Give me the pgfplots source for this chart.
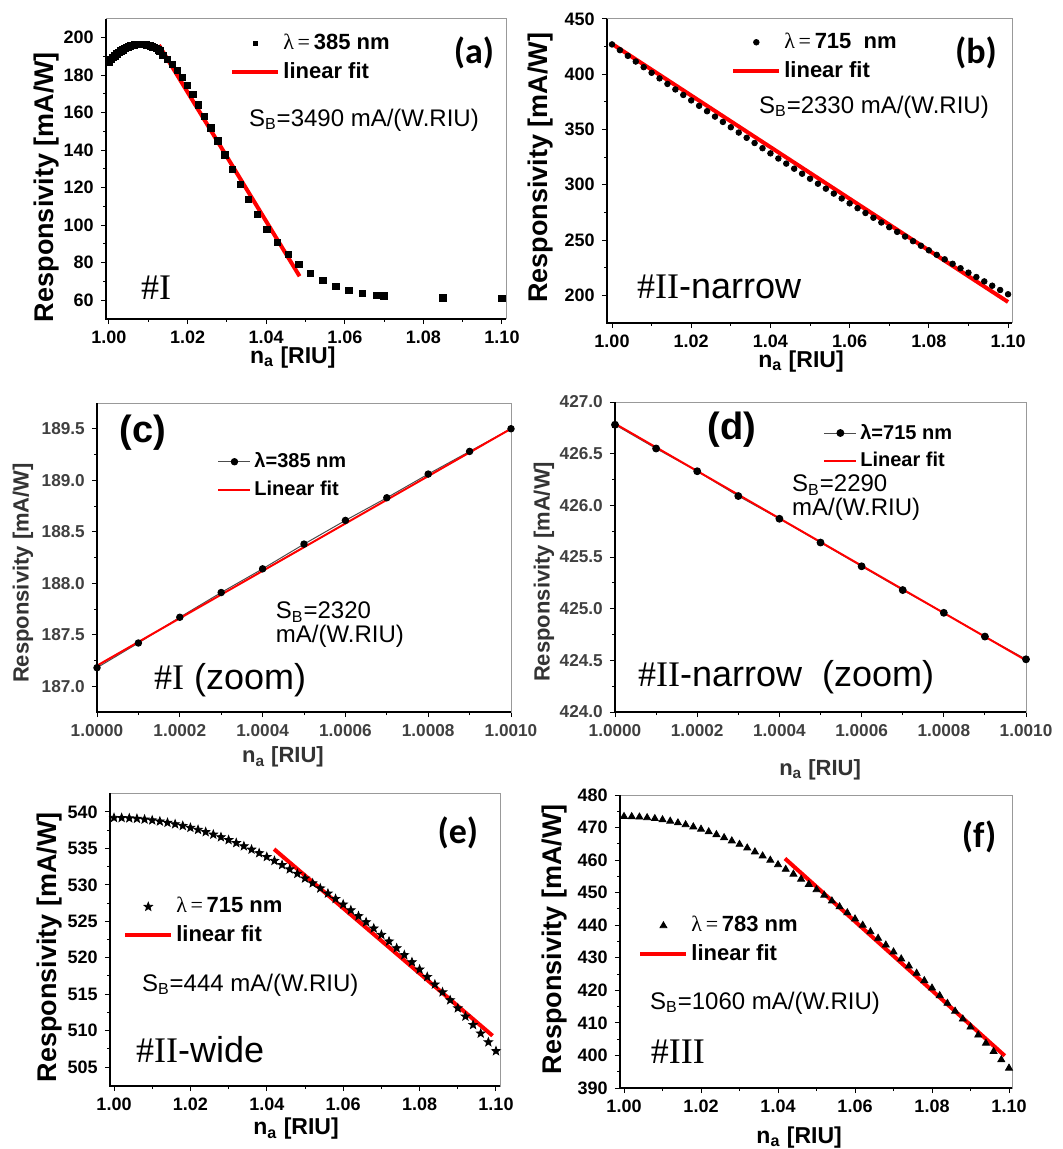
\documentclass[border=0pt]{standalone}
\usepackage{fontspec}
\setmainfont{Liberation Sans}
\newfontfamily\tnr{Liberation Serif}
\newfontfamily\calib{Carlito}
\usepackage{pgfplots}
\pgfplotsset{compat=1.18}

% filled five-point star
\pgfdeclareplotmark{fstar}{%
  \pgfpathmoveto{\pgfpointpolar{90}{\pgfplotmarksize}}%
  \pgfpathlineto{\pgfpointpolar{126}{0.42\pgfplotmarksize}}%
  \pgfpathlineto{\pgfpointpolar{162}{\pgfplotmarksize}}%
  \pgfpathlineto{\pgfpointpolar{198}{0.42\pgfplotmarksize}}%
  \pgfpathlineto{\pgfpointpolar{234}{\pgfplotmarksize}}%
  \pgfpathlineto{\pgfpointpolar{270}{0.42\pgfplotmarksize}}%
  \pgfpathlineto{\pgfpointpolar{306}{\pgfplotmarksize}}%
  \pgfpathlineto{\pgfpointpolar{342}{0.42\pgfplotmarksize}}%
  \pgfpathlineto{\pgfpointpolar{18}{\pgfplotmarksize}}%
  \pgfpathlineto{\pgfpointpolar{54}{0.42\pgfplotmarksize}}%
  \pgfpathclose\pgfusepathqfillstroke}

\newcommand{\fs}[1]{\fontsize{#1}{#1}\selectfont}

\pgfplotsset{
  panel/.style={
    scale only axis, anchor=south west,
    tick align=outside, xtick pos=bottom, ytick pos=left,
    major tick length=2.6pt, minor tick length=1.5pt,
    every tick/.style={black, line width=0.5pt},
    axis line style={black!40, line width=0.5pt},
    tick label style={font=\bfseries\fs{9}},
    /pgf/number format/assume math mode=true,
    /pgf/number format/fixed, /pgf/number format/fixed zerofill,
    ylabel style={font=\bfseries\fs{13.5}},
    xlabel style={font=\bfseries\fs{11.5}},
    legend cell align=left,
    legend style={draw=none, fill=none, inner sep=0pt, anchor=north west,
      font=\bfseries\fs{11}, row sep=2pt, nodes={inner sep=1.5pt}},
    legend image code/.code={\draw[mark repeat=2,mark phase=2,##1] plot coordinates {(0pt,0pt) (11.5pt,0pt) (23pt,0pt)};},
    after end axis/.code={\draw[black, line width=0.7pt] (rel axis cs:0,1) -- (rel axis cs:0,0) -- (rel axis cs:1,0);},
  },
  smallsq/.style={legend image code/.code={\draw[mark repeat=2,mark phase=2,##1,mark size=1.1pt] plot coordinates {(0pt,0pt) (11.5pt,0pt) (23pt,0pt)};}},
  wide/.style={xtick={1,1.02,1.04,1.06,1.08,1.1}, minor x tick num=1,
    xticklabel style={/pgf/number format/precision=2},
    yticklabel style={/pgf/number format/precision=0}},
  zoomx/.style={xtick={1,1.0002,1.0004,1.0006,1.0008,1.001}, minor x tick num=1,
    xticklabel style={/pgf/number format/precision=4},
    yticklabel style={/pgf/number format/precision=1},
    tick label style={font=\bfseries\fs{8.6}, text=black!75},
    ylabel style={font=\bfseries\fs{11}, text=black!80},
    xlabel style={font=\bfseries\fs{11}, text=black!80},
    legend style={font=\bfseries\fs{10}},
    legend image code/.code={\draw[mark repeat=2,mark phase=2,##1] plot coordinates {(0pt,0pt) (8pt,0pt) (16pt,0pt)};}},
  fit/.style={red, line width=2pt, no marks},
}

\begin{document}
\begin{tikzpicture}
\useasboundingbox (0,0) rectangle (531pt,-574.5pt);

% (a)
\begin{axis}[panel, wide, at={(53pt,-159.5pt)}, width=200pt, height=150pt,
  xmin=0.99924, xmax=1.10102, ymin=50, ymax=210,
  ytick={60,80,100,120,140,160,180,200}, minor y tick num=1,
  xlabel={n\textsubscript{a} [RIU]}, ylabel={Responsivity [mA/W]},
  xlabel style={at={(axis description cs:0.467,-0.147)}, anchor=base},
  ylabel style={at={(axis description cs:-0.148,0.44)}, anchor=center},
  legend style={at={(0.31,0.96)}}]
\addplot[only marks, mark=square*, mark size=1.6pt, black, smallsq]
coordinates {
(1.0000,187.22)(1.0005,188.34)(1.0010,189.40)(1.0015,190.37)(1.0020,191.28)
(1.0025,192.11)(1.0030,192.88)(1.0035,193.56)(1.0040,194.18)(1.0045,194.72)
(1.0050,195.20)(1.0055,195.59)(1.0060,195.92)(1.0065,196.17)(1.0070,196.36)
(1.0075,196.46)(1.0080,196.50)(1.0085,196.46)(1.0090,196.36)(1.0095,196.17)
(1.0100,195.92)(1.0105,195.59)(1.0110,195.20)(1.0115,194.72)(1.0120,194.18)
(1.0125,193.56)(1.0130,192.88)(1.0137,190.6)(1.0148,188.4)(1.0161,185.8)
(1.0174,182.6)(1.0187,178.7)(1.0200,174.6)(1.0214,169.8)(1.0227,164.1)
(1.0243,158.2)(1.0259,152.0)(1.0277,145.0)(1.0295,137.6)(1.0314,129.7)
(1.0334,121.7)(1.0355,113.7)(1.0378,105.7)(1.0402,97.7)(1.0428,90.9)
(1.0456,84.4)(1.0483,79.0)(1.0513,74.2)(1.0544,70.5)(1.0577,67.5)
(1.0610,65.1)(1.0645,63.7)(1.0680,62.7)(1.0700,62.3)(1.0850,61.2)(1.1000,60.9)};
\addlegendentry{{\tnr\mdseries λ\,=\,}385 nm}
\addplot[fit] coordinates {(1.0127,196.1) (1.0485,72.8)};
\addlegendentry{linear fit}
\node[anchor=center, font=\calib\bfseries\fs{18}] at (rel axis cs:0.92,0.887) {(a)};
\node[anchor=west, font=\fs{12}] at (rel axis cs:0.34,0.663) {S\textsubscript{B}=3490 mA/(W.RIU)};
\node[anchor=west, font=\tnr\fs{18}] at (rel axis cs:0.07,0.103) {\#I};
\end{axis}

% (b)
\begin{axis}[panel, wide, at={(303.5pt,-161.5pt)}, width=202.5pt, height=152pt,
  xmin=0.99874, xmax=1.1010, ymin=175, ymax=450,
  ytick={200,250,300,350,400,450}, minor y tick num=1,
  xlabel={n\textsubscript{a} [RIU]}, ylabel={Responsivity [mA/W]},
  xlabel style={at={(axis description cs:0.479,-0.145)}, anchor=base},
  ylabel style={at={(axis description cs:-0.163,0.51)}, anchor=center},
  legend style={at={(0.306,0.965)}}]
\addplot[only marks, mark=*, mark size=1.4pt, black] coordinates {
(1.000,427.00)(1.002,421.81)(1.004,416.65)(1.006,411.52)(1.008,406.42)
(1.010,401.34)(1.012,396.29)(1.014,391.27)(1.016,386.27)(1.018,381.30)
(1.020,376.36)(1.022,371.45)(1.024,366.56)(1.026,361.70)(1.028,356.87)
(1.030,352.06)(1.032,347.28)(1.034,342.53)(1.036,337.81)(1.038,333.11)
(1.040,328.44)(1.042,323.80)(1.044,319.18)(1.046,314.59)(1.048,310.03)
(1.050,305.50)(1.052,300.99)(1.054,296.51)(1.056,292.06)(1.058,287.64)
(1.060,283.24)(1.062,278.87)(1.064,274.53)(1.066,270.21)(1.068,265.92)
(1.070,261.66)(1.072,257.43)(1.074,253.22)(1.076,249.04)(1.078,244.89)
(1.080,240.76)(1.082,236.66)(1.084,232.59)(1.086,228.55)(1.088,224.53)
(1.090,220.54)(1.092,216.58)(1.094,212.64)(1.096,208.73)(1.098,204.85)(1.100,201.00)};
\addlegendentry{{\tnr\mdseries λ\,=\,}715\ \ nm}
\addplot[fit] coordinates {(1.000,427.5) (1.100,194.0)};
\addlegendentry{linear fit}
\node[anchor=center, font=\calib\bfseries\fs{18}] at (rel axis cs:0.911,0.888) {(b)};
\node[anchor=west, font=\fs{12}] at (rel axis cs:0.358,0.711) {S\textsubscript{B}=2330 mA/(W.RIU)};
\node[anchor=west, font=\fs{18}] at (rel axis cs:0.057,0.118) {{\tnr\#II}-narrow};
\end{axis}

% (c)
\begin{axis}[panel, zoomx, at={(48.5pt,-356pt)}, width=207pt, height=154.5pt,
  xmin=1, xmax=1.001, ymin=186.75, ymax=189.75,
  ytick={187,187.5,188,188.5,189,189.5}, minor y tick num=1,
  xlabel={n\textsubscript{a} [RIU]}, ylabel={Responsivity [mA/W]},
  xlabel style={at={(axis description cs:0.449,-0.165)}, anchor=base},
  ylabel style={at={(axis description cs:-0.179,0.45)}, anchor=center},
  legend style={at={(0.29,0.85)}}]
\addplot[black!70, line width=0.5pt, mark=*, mark size=1.6pt,
  mark options={black}] coordinates {
(1.0000,187.18)(1.0001,187.42)(1.0002,187.67)(1.0003,187.91)(1.0004,188.14)
(1.0005,188.38)(1.0006,188.61)(1.0007,188.83)(1.0008,189.06)(1.0009,189.28)(1.0010,189.50)};
\addlegendentry{λ=385 nm}
\addplot[red, line width=1pt, no marks] coordinates {(1.0000,187.20) (1.0010,189.50)};
\addlegendentry{Linear fit}
\node[anchor=center, font=\bfseries\fs{19}] at (rel axis cs:0.111,0.903) {(c)};
\node[anchor=west, align=left, font=\fs{12}] at (rel axis cs:0.415,0.282) {S\textsubscript{B}=2320\\mA/(W.RIU)};
\node[anchor=west, font=\fs{18}] at (rel axis cs:0.121,0.104) {{\tnr\#I} (zoom)};
\end{axis}

% (d)
\begin{axis}[panel, zoomx, at={(307.5pt,-356pt)}, width=205.5pt, height=155pt,
  xmin=1, xmax=1.001, ymin=424, ymax=427,
  ytick={424,424.5,425,425.5,426,426.5,427}, minor y tick num=1,
  xlabel={n\textsubscript{a} [RIU]}, ylabel={Responsivity [mA/W]},
  xlabel style={at={(axis description cs:0.499,-0.205)}, anchor=base},
  ylabel style={at={(axis description cs:-0.173,0.452)}, anchor=center},
  legend style={at={(0.506,0.94)}}]
\addplot[black!70, line width=0.5pt, mark=*, mark size=1.7pt,
  mark options={black}] coordinates {
(1.0000,426.78)(1.0001,426.55)(1.0002,426.33)(1.0003,426.09)(1.0004,425.87)
(1.0005,425.64)(1.0006,425.41)(1.0007,425.18)(1.0008,424.96)(1.0009,424.73)(1.0010,424.51)};
\addlegendentry{λ=715 nm}
\addplot[red, line width=1pt, no marks] coordinates {(1.0000,426.79) (1.0010,424.50)};
\addlegendentry{Linear fit}
\node[anchor=center, font=\bfseries\fs{19}] at (rel axis cs:0.285,0.91) {(d)};
\node[anchor=west, align=left, font=\fs{12}] at (rel axis cs:0.414,0.69) {S\textsubscript{B}=2290\\mA/(W.RIU)};
\node[anchor=west, font=\fs{18}] at (rel axis cs:0.039,0.113) {{\tnr\#II}-narrow\ \ (zoom)};
\end{axis}

% (e)
\begin{axis}[panel, wide, at={(55pt,-543pt)}, width=195pt, height=146.5pt,
  xmin=0.99895, xmax=1.10105, ymin=502.4, ymax=542.6,
  ytick={505,510,515,520,525,530,535,540}, minor y tick num=1,
  xlabel={n\textsubscript{a} [RIU]}, ylabel={Responsivity [mA/W]},
  xlabel style={at={(axis description cs:0.477,-0.167)}, anchor=base},
  ylabel style={at={(axis description cs:-0.154,0.473)}, anchor=center},
  legend style={at={(0.033,0.655)}}]
\addplot[only marks, mark=fstar, mark size=2.2pt, black] coordinates {
(1.000,539.20)(1.002,539.19)(1.004,539.14)(1.006,539.08)(1.008,538.98)
(1.010,538.86)(1.012,538.71)(1.014,538.53)(1.016,538.33)(1.018,538.10)
(1.020,537.84)(1.022,537.56)(1.024,537.25)(1.026,536.91)(1.028,536.55)
(1.030,536.16)(1.032,535.75)(1.034,535.31)(1.036,534.85)(1.038,534.36)
(1.040,533.84)(1.042,533.30)(1.044,532.73)(1.046,532.14)(1.048,531.53)
(1.050,530.89)(1.052,530.22)(1.054,529.53)(1.056,528.82)(1.058,528.08)
(1.060,527.32)(1.062,526.53)(1.064,525.72)(1.066,524.89)(1.068,524.03)
(1.070,523.15)(1.072,522.25)(1.074,521.32)(1.076,520.37)(1.078,519.40)
(1.080,518.40)(1.082,517.38)(1.084,516.34)(1.086,515.27)(1.088,514.19)
(1.090,513.08)(1.092,511.95)(1.094,510.79)(1.096,509.62)(1.098,508.42)(1.100,507.20)};
\addlegendentry{{\tnr\mdseries λ\,=\,}715 nm}
\addplot[fit] coordinates {(1.0419,534.9) (1.0991,509.3)};
\addlegendentry{linear fit}
\node[anchor=center, font=\calib\bfseries\fs{18}] at (rel axis cs:0.892,0.863) {(e)};
\node[anchor=west, font=\fs{12}] at (rel axis cs:0.064,0.345) {S\textsubscript{B}=444 mA/(W.RIU)};
\node[anchor=west, font=\fs{18}] at (rel axis cs:0.049,0.123) {{\tnr\#II}-wide};
\end{axis}

% (f)
\begin{axis}[panel, wide, at={(310pt,-544pt)}, width=196pt, height=146.5pt,
  xmin=0.99896, xmax=1.10078, ymin=390, ymax=480,
  ytick={390,400,410,420,430,440,450,460,470,480}, minor y tick num=1,
  xlabel={n\textsubscript{a} [RIU]}, ylabel={Responsivity [mA/W]},
  xlabel style={at={(axis description cs:0.457,-0.188)}, anchor=base},
  ylabel style={at={(axis description cs:-0.168,0.508)}, anchor=center},
  legend style={at={(0.046,0.597)}}]
\addplot[only marks, mark=triangle*, mark size=2pt, black] coordinates {
(1.000,473.40)(1.002,473.36)(1.004,473.24)(1.006,473.04)(1.008,472.76)
(1.010,472.40)(1.012,471.97)(1.014,471.46)(1.016,470.88)(1.018,470.22)
(1.020,469.50)(1.022,468.71)(1.024,467.84)(1.026,466.91)(1.028,465.91)
(1.030,464.85)(1.032,463.73)(1.034,462.54)(1.036,461.29)(1.038,459.98)
(1.040,458.61)(1.042,457.18)(1.044,455.70)(1.046,454.16)(1.048,452.56)
(1.050,450.92)(1.052,449.22)(1.054,447.47)(1.056,445.67)(1.058,443.83)
(1.060,441.94)(1.062,440.00)(1.064,438.01)(1.066,435.99)(1.068,433.92)
(1.070,431.81)(1.072,429.66)(1.074,427.48)(1.076,425.25)(1.078,422.99)
(1.080,420.70)(1.082,418.37)(1.084,416.01)(1.086,413.61)(1.088,411.19)
(1.090,408.74)(1.092,406.26)(1.094,403.76)(1.096,401.23)(1.098,398.68)(1.100,396.10)};
\addlegendentry{{\tnr\mdseries λ\,=\,}783 nm}
\addplot[fit] coordinates {(1.0418,460.5) (1.0989,399.9)};
\addlegendentry{linear fit}
\node[anchor=center, font=\calib\bfseries\fs{18}] at (rel axis cs:0.916,0.857) {(f)};
\node[anchor=west, font=\fs{12}] at (rel axis cs:0.059,0.29) {S\textsubscript{B}=1060 mA/(W.RIU)};
\node[anchor=west, font=\tnr\fs{18}] at (rel axis cs:0.061,0.123) {\#III};
\end{axis}
\end{tikzpicture}
\end{document}
